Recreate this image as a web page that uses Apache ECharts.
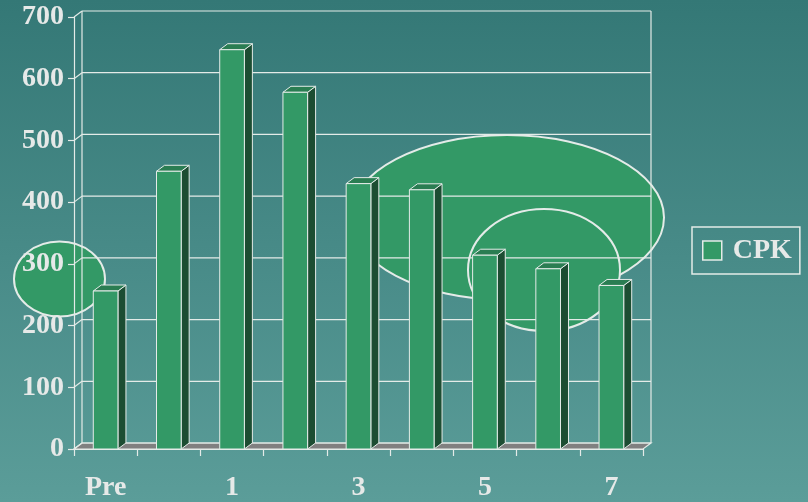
<!DOCTYPE html>
<html>
<head>
<meta charset="utf-8">
<script src="https://cdn.jsdelivr.net/npm/echarts@6/dist/echarts.min.js"></script>
<style>
  html, body { margin: 0; padding: 0; }
  #chart {
    width: 808px; height: 502px;
    background: linear-gradient(to bottom, #347876 0%, #5b9d99 100%);
  }
</style>
</head>
<body>
<div id="chart"></div>
<script>
// Chart data
const categories = ['Pre', '0', '1', '2', '3', '4', '5', '6', '7'];
const cpkValues = [256, 450, 647, 578, 430, 420, 314, 292, 265];
const yTicks = [0, 100, 200, 300, 400, 500, 600, 700];

// 3D look: depth offset of the back wall and of each bar
const DX = 8, DY = 6;
const LINE = '#e4ebe8';
const FRONT = '#339966', SIDE = '#1c4d32', TOP = '#2a7d52';
const TEXT = '#e6e9e8';
const FONT = '"Liberation Serif", "Times New Roman", serif';

const chart = echarts.init(document.getElementById('chart'), null, { renderer: 'canvas' });

// Back wall grid lines, left-wall connectors and floor
function renderFrame(params, api) {
  const cs = params.coordSys;
  const v = api.value(1);
  const yf = api.coord([0, v])[1];
  const xl = cs.x, xr = cs.x + cs.width;
  const ls = { stroke: LINE, lineWidth: 1.2 };
  const children = [
    { type: 'line', shape: { x1: xl, y1: yf, x2: xl + DX, y2: yf - DY }, style: ls },
    { type: 'line', shape: { x1: xl + DX, y1: yf - DY, x2: xr + DX, y2: yf - DY }, style: ls }
  ];
  if (params.dataIndex === 0) {
    const yTop = cs.y;
    children.unshift({
      type: 'polygon',
      shape: { points: [[xl, yf], [xr, yf], [xr + DX, yf - DY], [xl + DX, yf - DY]] },
      style: { fill: '#808080', stroke: LINE, lineWidth: 1.2 }
    });
    children.push(
      { type: 'line', shape: { x1: xl + DX, y1: yTop - DY, x2: xl + DX, y2: yf - DY }, style: ls },
      { type: 'line', shape: { x1: xr + DX, y1: yTop - DY, x2: xr + DX, y2: yf - DY }, style: ls }
    );
  }
  return { type: 'group', children };
}

// Bars with a front face, a dark side and a top face
function renderBar(params, api) {
  const idx = api.value(0), v = api.value(1);
  const top = api.coord([idx, v]);
  const base = api.coord([idx, 0]);
  const band = api.size([1, 0])[0];
  const w = band * 0.39;
  const x0 = top[0] - w / 2, x1 = top[0] + w / 2;
  const yt = top[1], yb = base[1];
  const st = (fill) => ({ fill, stroke: LINE, lineWidth: 1 });
  return {
    type: 'group',
    children: [
      { type: 'polygon', shape: { points: [[x1, yt], [x1 + DX, yt - DY], [x1 + DX, yb - DY], [x1, yb]] }, style: st(SIDE) },
      { type: 'polygon', shape: { points: [[x0, yt], [x1, yt], [x1 + DX, yt - DY], [x0 + DX, yt - DY]] }, style: st(TOP) },
      { type: 'rect', shape: { x: x0, y: yt, width: w, height: yb - yt }, style: st(FRONT) }
    ]
  };
}

const labelStyle = { color: TEXT, fontSize: 28, fontWeight: 'bold', fontFamily: FONT };
const ellipseStyle = { fill: FRONT, stroke: LINE, lineWidth: 2 };

chart.setOption({
  backgroundColor: 'transparent',
  animation: false,
  grid: { left: 74, right: 165, top: 17, bottom: 53, containLabel: false },
  xAxis: {
    type: 'category',
    data: categories,
    boundaryGap: true,
    axisLine: { show: true, lineStyle: { color: LINE, width: 1.2 } },
    axisTick: { show: true, length: 7, interval: 0, lineStyle: { color: LINE, width: 1.2 } },
    axisLabel: Object.assign({ interval: 1, margin: 25 }, labelStyle),
    splitLine: { show: false }
  },
  yAxis: {
    type: 'value',
    min: 0, max: 700, interval: 100,
    axisLine: { show: true, lineStyle: { color: LINE, width: 1.2 } },
    axisTick: { show: true, length: 6, lineStyle: { color: LINE, width: 1.2 } },
    axisLabel: Object.assign({ margin: 10, padding: [3, 0, 0, 0] }, labelStyle),
    splitLine: { show: false }
  },
  legend: {
    left: 692, top: 227,
    orient: 'vertical',
    padding: [9, 8, 9, 10],
    borderColor: LINE, borderWidth: 1.5,
    itemWidth: 19, itemHeight: 19,
    data: [{ name: 'CPK', icon: 'rect', itemStyle: { color: FRONT, borderColor: LINE, borderWidth: 1.5 } }],
    textStyle: Object.assign({ padding: [0, 0, 0, 6], lineHeight: 29 }, labelStyle),
    selectedMode: false
  },
  graphic: {
    elements: [
      { type: 'ellipse', z: -1, shape: { cx: 507, cy: 217.5, rx: 157, ry: 82.5 }, style: ellipseStyle, silent: true },
      { type: 'ellipse', z: -1, shape: { cx: 544, cy: 270, rx: 76, ry: 61 }, style: ellipseStyle, silent: true },
      { type: 'ellipse', z: -1, shape: { cx: 59.5, cy: 279, rx: 45.5, ry: 37.5 }, style: ellipseStyle, silent: true }
    ]
  },
  series: [
    {
      name: 'frame',
      type: 'custom',
      z: 1,
      silent: true,
      renderItem: renderFrame,
      data: yTicks.map(v => [0, v])
    },
    {
      name: 'CPK',
      type: 'custom',
      z: 3,
      itemStyle: { color: FRONT },
      renderItem: renderBar,
      encode: { x: 0, y: 1 },
      data: cpkValues.map((v, i) => [i, v])
    }
  ]
});
</script>
</body>
</html>
